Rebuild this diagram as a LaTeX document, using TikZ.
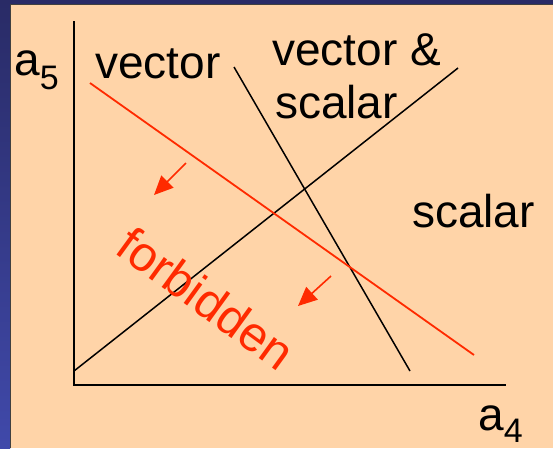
\documentclass[tikz,border=0pt]{standalone}
\usepackage{fontspec}
\setmainfont{Liberation Sans}
\usetikzlibrary{arrows.meta}
\definecolor{peach}{HTML}{FFD4A8}
\definecolor{fred}{HTML}{FF2A00}
\definecolor{navytop}{HTML}{292B66}
\definecolor{navybot}{HTML}{4049AA}
\begin{document}
\begin{tikzpicture}[x=1pt,y=-1pt,
  lbl/.style={font=\fontsize{46}{52}\selectfont, inner sep=0pt, anchor=base west},
  axis/.style={line width=2.2pt},
  bline/.style={line width=1.5pt, black},
  rline/.style={line width=1.8pt, fred},
  rarrow/.style={line width=1.6pt, fred, -{Triangle[length=19pt,width=17pt]}}]
\useasboundingbox (0,0) rectangle (553,448);
\shade[top color=navytop,bottom color=navybot] (0,0) rectangle (10,448);
\fill[navytop] (0,0) rectangle (553,4);
\fill[peach] (10,4) rectangle (553,448);
\draw[black!75, line width=0.8pt] (10,448) -- (10,4) -- (553,4);
% axes
\coordinate (O) at (74,385);
\coordinate (Ytop) at (74,21);
\coordinate (Xend) at (506,385);
\draw[axis] (Ytop) -- (O) -- (Xend);
% boundary lines
\coordinate (S1) at (234,67);
\coordinate (S2) at (410,371);
\coordinate (D1) at (74,371);
\coordinate (D2) at (458,68);
\coordinate (R1) at (90,83);
\coordinate (R2) at (474,355);
\draw[bline] (S1) -- (S2);
\draw[bline] (D1) -- (D2);
\draw[rline] (R1) -- (R2);
% arrows
\coordinate (A1s) at (186,163);
\coordinate (A1e) at (154,195);
\coordinate (A2s) at (331,276);
\coordinate (A2e) at (298,306);
\draw[rarrow] (A1s) -- (A1e);
\draw[rarrow] (A2s) -- (A2e);
% labels
\node[lbl] (a5) at (14,75) {a\raisebox{-14pt}{\fontsize{34}{40}\selectfont 5}};
\node[lbl] (vec) at (95,78) {vector};
\node[lbl] (vs1) at (272,65) {vector \&};
\node[lbl] (vs2) at (275,118) {scalar};
\node[lbl] (sc) at (412,227) {scalar};
\node[lbl] (a4) at (478,430) {a\raisebox{-12pt}{\fontsize{34}{40}\selectfont 4}};
\node[font=\fontsize{49}{55}\selectfont, inner sep=0pt, text=fred, rotate=-36] (fb) at (206,298) {forbidden};
\end{tikzpicture}
\end{document}
